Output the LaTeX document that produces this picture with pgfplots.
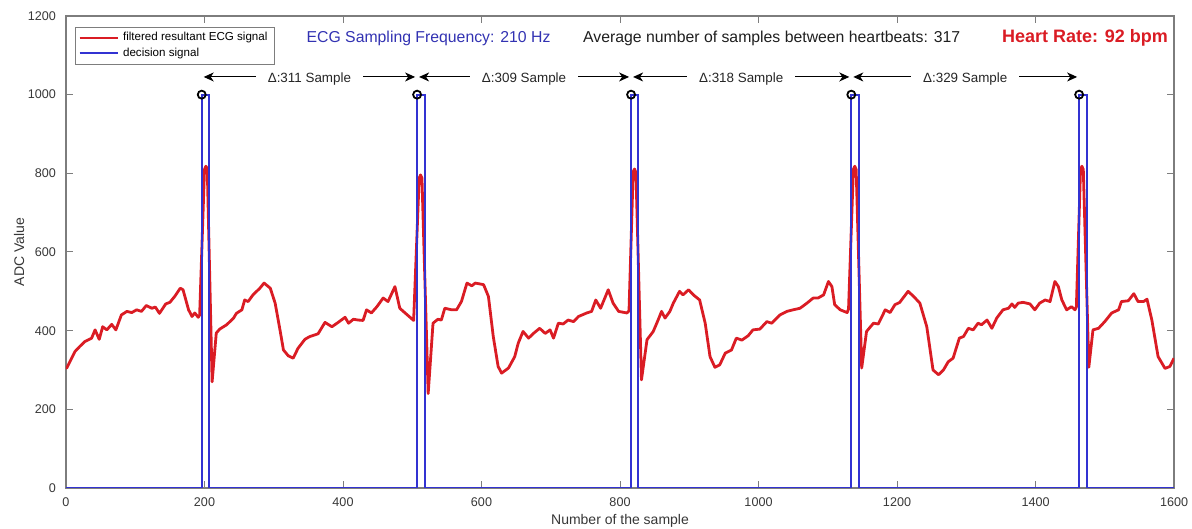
\documentclass[border=0pt]{standalone}
\usepackage{fontspec}
\setmainfont{Liberation Sans}
\usepackage{pgfplots}
\pgfplotsset{compat=1.18}
\usetikzlibrary{arrows.meta}

\definecolor{ecgred}{RGB}{218,28,36}
\definecolor{decblue}{RGB}{50,50,210}
\definecolor{txtblue}{RGB}{50,50,178}
\definecolor{axgray}{RGB}{125,125,125}
\definecolor{lblgray}{RGB}{55,55,55}

\begin{document}
\begin{tikzpicture}
\begin{axis}[
  scale only axis, width=554pt, height=236pt,
  xmin=0, xmax=1600, ymin=0, ymax=1200,
  xtick={0,200,...,1600}, ytick={0,200,...,1200},
  tick align=inside, major tick length=3.5pt,
  axis line style={axgray, line width=0.6pt},
  tick style={axgray, line width=0.5pt},
  ticklabel style={font=\fontsize{6.3}{7}\selectfont, text=lblgray},
  xticklabel style={yshift=-1.5pt},
  yticklabel style={xshift=-1.5pt},
  /pgf/number format/assume math mode=true,
  /pgf/number format/1000 sep={},
  xlabel={Number of the sample},
  ylabel={ADC Value},
  label style={font=\fontsize{7}{8}\selectfont, text=lblgray},
  xlabel style={at={(axis description cs:0.5,-0.07)}, anchor=center},
  ylabel style={at={(axis description cs:-0.0424,0.5)}, anchor=center},
  legend cell align=left,
  legend style={at={(0.008,0.977)}, anchor=north west,
    font=\fontsize{5.8}{6.5}\selectfont, draw=axgray,
    inner xsep=1.5pt, inner ysep=0.5pt, row sep=-2pt},
  legend image code/.code={\draw[#1] (0pt,0pt) -- (19pt,0pt);},
]

% filtered ECG signal
\addplot[ecgred, line width=1.4pt, line join=round] coordinates {
(0,305) (1,305) (13,347) (20,360) (27,372) (37,381) (42,402) (48,378)
(53,410) (59,402) (66,416) (72,402) (80,440) (88,449) (95,446) (102,453)
(109,449) (116,464) (124,457) (129,460) (135,444) (144,468) (150,472)
(157,487) (165,508) (169,504) (177,453) (182,436) (186,445) (191,434)
(193,440) (200,810) (202,818) (204,812) (211,270) (217,394) (222,404) (232,415)
(242,432) (246,444) (254,453) (258,478) (263,474) (270,491) (280,508)
(286,521) (295,508) (302,470) (309,402) (314,351) (321,336) (328,330)
(335,355) (345,378) (352,385) (364,392) (374,421) (384,410) (393,421)
(403,434) (408,419) (415,429) (422,427) (429,426) (434,453) (441,445)
(449,461) (458,483) (465,474) (475,512) (482,457) (489,446) (502,426)
(510,788) (512,796) (514,788) (523,240) (530,419) (537,429) (542,427) (547,457)
(557,453) (564,453) (571,474) (579,521) (586,514) (591,521) (603,517)
(610,487) (617,385) (624,309) (629,292) (639,305) (648,334) (653,368)
(660,398) (668,381) (675,393) (684,406) (692,393) (699,402) (704,381)
(711,419) (718,417) (725,427) (733,423) (740,436) (752,445) (759,449)
(765,478) (772,457) (783,504) (790,470) (798,449) (810,445) (813,450)
(819,804) (821,811) (823,802) (831,275) (839,377) (848,398) (855,427) (860,449)
(865,432) (872,449) (877,470) (886,500) (891,491) (899,504) (906,491)
(915,478) (923,419) (930,334) (937,307) (944,313) (952,343) (961,351)
(968,381) (976,376) (985,387) (992,402) (1002,404) (1012,423) (1019,419)
(1031,440) (1041,449) (1050,453) (1060,457) (1070,470) (1079,483)
(1086,483) (1094,491) (1101,525) (1106,512) (1110,466) (1118,453)
(1128,446) (1130,455) (1137,810) (1139,818) (1141,810) (1149,305) (1156,398)
(1166,419) (1173,417) (1183,453) (1190,446) (1197,466) (1204,472)
(1216,500) (1224,487) (1233,470) (1243,410) (1252,300) (1260,288)
(1267,300) (1274,321) (1281,330) (1290,381) (1296,385) (1303,406)
(1310,402) (1317,419) (1322,415) (1330,427) (1337,406) (1344,432)
(1353,453) (1361,457) (1366,468) (1370,459) (1375,470) (1382,472)
(1392,468) (1399,453) (1406,470) (1414,478) (1421,474) (1428,525)
(1433,512) (1438,478) (1445,453) (1452,461) (1457,453) (1459,460)
(1465,810) (1467,818) (1469,810) (1477,307) (1483,402) (1491,406) (1500,423)
(1510,445) (1520,453) (1524,474) (1534,476) (1542,494) (1548,474)
(1556,474) (1561,480) (1568,427) (1577,334) (1587,304) (1594,309)
(1600,330)
};
\addlegendentry{filtered resultant ECG signal}

% decision signal
\addplot[draw=decblue, line width=1pt] coordinates {
(0,0) (196,0) (196,1000) (207,1000) (207,0)
(507,0) (507,1000) (518,1000) (518,0)
(816,0) (816,1000) (826,1000) (826,0)
(1134,0) (1134,1000) (1145,1000) (1145,0)
(1463,0) (1463,1000) (1474,1000) (1474,0) (1600,0)
};
\addlegendentry{decision signal}

% detected R peaks
\addplot[only marks, mark=o, mark size=2pt, black, line width=0.9pt, forget plot]
  coordinates {(196,1000) (507,1000) (816,1000) (1134,1000) (1463,1000)};

% intervals between beats
\tikzset{dlt/.style={{Stealth[length=5pt,width=4.5pt,inset=1.5pt]}-{Stealth[length=5pt,width=4.5pt,inset=1.5pt]},
  black, line width=0.5pt, shorten <=1pt, shorten >=1pt},
  dlab/.style={anchor=base, fill=white, inner xsep=6pt, inner ysep=1pt,
  font=\fontsize{6.7}{8}\selectfont, text=black!85}}
\draw[dlt] (axis cs:196,1045) -- (axis cs:507,1045);
\node[dlab] at (axis cs:351.5,1031) {Δ:311 Sample};
\draw[dlt] (axis cs:507,1045) -- (axis cs:816,1045);
\node[dlab] at (axis cs:661.5,1031) {Δ:309 Sample};
\draw[dlt] (axis cs:816,1045) -- (axis cs:1134,1045);
\node[dlab] at (axis cs:975,1031) {Δ:318 Sample};
\draw[dlt] (axis cs:1134,1045) -- (axis cs:1463,1045);
\node[dlab] at (axis cs:1298.5,1031) {Δ:329 Sample};

% header texts
\node[anchor=base, font=\fontsize{7.9}{9}\selectfont, text=txtblue]
  at (axis cs:523.5,1133) {ECG Sampling Frequency: 210 Hz};
\node[anchor=base, font=\fontsize{7.9}{9}\selectfont, text=black!88]
  at (axis cs:1019,1133) {Average number of samples between heartbeats: 317};
\node[anchor=base, font=\fontsize{9}{10}\selectfont\bfseries, text=ecgred]
  at (axis cs:1471.5,1133) {Heart Rate: 92 bpm};
\end{axis}
\pgfresetboundingbox
\path ([shift={(-33pt,-20.5pt)}]current axis.south west)
  rectangle ([shift={(9pt,8pt)}]current axis.north east);
\end{tikzpicture}
\end{document}
